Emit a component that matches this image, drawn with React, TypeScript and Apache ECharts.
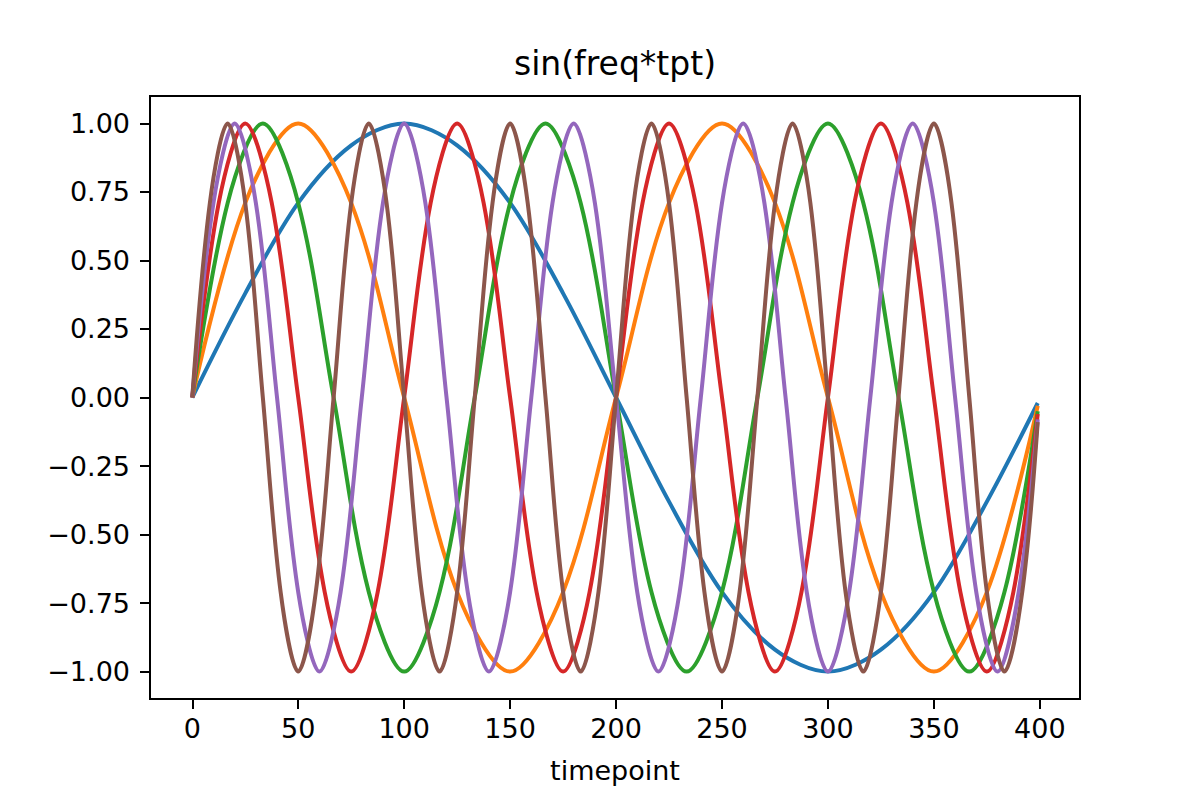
import React, { useEffect, useRef } from 'react';
import * as echarts from 'echarts';

// samples (x = timepoint, y = value)
const blueX = [0, 25, 50, 75, 100, 125, 150, 175, 200, 225, 250, 275, 300, 325, 350, 375, 399];
const blueY = [0, 0.38, 0.71, 0.92, 1, 0.92, 0.71, 0.38, 0, -0.38, -0.71, -0.92, -1, -0.92, -0.71, -0.38, -0.02];

const orangeX = [0, 25, 50, 75, 100, 125, 150, 175, 200, 225, 250, 275, 300, 325, 350, 375, 399];
const orangeY = [0, 0.71, 1, 0.71, 0, -0.71, -1, -0.71, 0, 0.71, 1, 0.71, 0, -0.71, -1, -0.71, -0.03];

const greenX = [0, 16.7, 33.3, 50, 66.7, 83.3, 100, 116.7, 133.3, 150, 166.7, 183.3, 200, 216.7, 233.3, 250,
  266.7, 283.3, 300, 316.7, 333.3, 350, 366.7, 383.3, 399];
const greenY = [0, 0.71, 1, 0.71, 0, -0.71, -1, -0.71, 0, 0.71, 1, 0.71, 0, -0.71, -1, -0.71,
  0, 0.71, 1, 0.71, 0, -0.71, -1, -0.71, -0.05];

const redX = [0, 12.5, 25, 37.5, 50, 62.5, 75, 87.5, 100, 112.5, 125, 137.5, 150, 162.5, 175, 187.5,
  200, 212.5, 225, 237.5, 250, 262.5, 275, 287.5, 300, 312.5, 325, 337.5, 350, 362.5, 375, 387.5, 399];
const redY = [0, 0.71, 1, 0.71, 0, -0.71, -1, -0.71, 0, 0.71, 1, 0.71, 0, -0.71, -1, -0.71,
  0, 0.71, 1, 0.71, 0, -0.71, -1, -0.71, 0, 0.71, 1, 0.71, 0, -0.71, -1, -0.71, -0.06];

const purpleX = [0, 10, 20, 30, 40, 50, 60, 70, 80, 90, 100, 110, 120, 130, 140, 150, 160, 170, 180, 190,
  200, 210, 220, 230, 240, 250, 260, 270, 280, 290, 300, 310, 320, 330, 340, 350, 360, 370, 380, 390, 399];
const purpleY = [0, 0.71, 1, 0.71, 0, -0.71, -1, -0.71, 0, 0.71, 1, 0.71, 0, -0.71, -1, -0.71, 0, 0.71, 1, 0.71,
  0, -0.71, -1, -0.71, 0, 0.71, 1, 0.71, 0, -0.71, -1, -0.71, 0, 0.71, 1, 0.71, 0, -0.71, -1, -0.71, -0.08];

const brownX = [0, 8.3, 16.7, 25, 33.3, 41.7, 50, 58.3, 66.7, 75, 83.3, 91.7, 100, 108.3, 116.7, 125,
  133.3, 141.7, 150, 158.3, 166.7, 175, 183.3, 191.7, 200, 208.3, 216.7, 225, 233.3, 241.7, 250, 258.3,
  266.7, 275, 283.3, 291.7, 300, 308.3, 316.7, 325, 333.3, 341.7, 350, 358.3, 366.7, 375, 383.3, 391.7, 399];
const brownY = [0, 0.71, 1, 0.71, 0, -0.71, -1, -0.71, 0, 0.71, 1, 0.71, 0, -0.71, -1, -0.71,
  0, 0.71, 1, 0.71, 0, -0.71, -1, -0.71, 0, 0.71, 1, 0.71, 0, -0.71, -1, -0.71,
  0, 0.71, 1, 0.71, 0, -0.71, -1, -0.71, 0, 0.71, 1, 0.71, 0, -0.71, -1, -0.71, -0.09];

const xTicks = [0, 50, 100, 150, 200, 250, 300, 350, 400];
const yTicks = [-1, -0.75, -0.5, -0.25, 0, 0.25, 0.5, 0.75, 1];

const lines = [
  { x: blueX, y: blueY, color: '#1f77b4' },
  { x: orangeX, y: orangeY, color: '#ff7f0e' },
  { x: greenX, y: greenY, color: '#2ca02c' },
  { x: redX, y: redY, color: '#d62728' },
  { x: purpleX, y: purpleY, color: '#9467bd' },
  { x: brownX, y: brownY, color: '#8c564b' },
];

const FONT = 'DejaVu Sans';

export default function App() {
  const ref = useRef<HTMLDivElement | null>(null);

  useEffect(() => {
    if (!ref.current) return;
    const chart = echarts.init(ref.current, null, { renderer: 'svg' });
    chart.setOption({
      animation: false,
      textStyle: { fontFamily: FONT, color: '#000' },
      // title centred over the plot area, not the page
      graphic: [{
        type: 'text', x: 615, y: 80,
        style: { text: 'sin(freq*tpt)', font: `33px "${FONT}"`, fill: '#000', align: 'center', verticalAlign: 'bottom' },
      }],
      grid: { left: 150, right: 120, top: 96, bottom: 101, show: true, borderColor: '#000', borderWidth: 2 },
      xAxis: {
        type: 'value', min: -19.95, max: 418.95,
        name: 'timepoint', nameLocation: 'middle', nameGap: 58,
        nameTextStyle: { fontFamily: FONT, fontSize: 27, color: '#000' },
        axisLine: { show: false, onZero: false },
        splitLine: { show: false },
        axisTick: { show: true, length: 10, lineStyle: { color: '#000', width: 2 }, customValues: xTicks },
        axisLabel: { fontFamily: FONT, fontSize: 27, color: '#000', margin: 16, customValues: xTicks },
      },
      yAxis: {
        type: 'value', min: -1.1, max: 1.1,
        axisLine: { show: false, onZero: false },
        splitLine: { show: false },
        axisTick: { show: true, length: 10, lineStyle: { color: '#000', width: 2 }, customValues: yTicks },
        axisLabel: {
          fontFamily: FONT, fontSize: 27, color: '#000', margin: 20, customValues: yTicks,
          formatter: (v: number) => v.toFixed(2).replace('-', '\u2212'),
        },
      },
      series: lines.map(l => ({
        type: 'line',
        data: l.x.map((x, i) => [x, l.y[i]]),
        smooth: 0.33,
        showSymbol: false,
        lineStyle: { color: l.color, width: 4 },
        itemStyle: { color: l.color },
      })),
    });
    return () => chart.dispose();
  }, []);

  return (
    <div style={{ position: 'absolute', left: 0, top: 0, width: 1200, height: 800, background: '#fff' }}>
      <div ref={ref} style={{ width: 1200, height: 800 }} />
    </div>
  );
}
